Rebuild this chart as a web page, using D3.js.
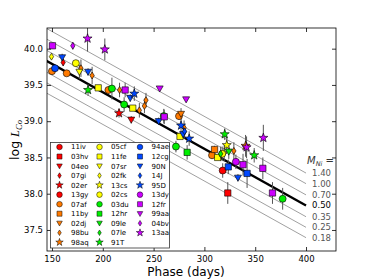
<!DOCTYPE html>
<html>
<head>
<meta charset="utf-8">
<script src="https://cdn.jsdelivr.net/npm/d3@7"></script>
<style>
  body { margin: 0; background: #fff; }
  text { font-family: "DejaVu Sans", sans-serif; }
</style>
</head>
<body>
<div id="chart"></div>
<script>
// legend order (column by column)
const snNames = ["11iv","03hv","04eo","07gi","02er","13gy","07af","11by","02dj","98bu","98aq",
                 "05cf","11fe","07sr","02fk","13cs","02cs","03du","12hr","09le","07le","91T",
                 "94ae","12cg","90N","14J","95D","13dy","12fr","99aa","04bv","13aa"];
const snColors = ["red","red","red","red","red","red","orange","orange","orange","orange","orange",
                  "yellow","yellow","yellow","yellow","yellow","yellow","green","green","green","green","green",
                  "blue","blue","blue","blue","blue","magenta","magenta","magenta","magenta","magenta"];
const snMarkers = ["o","s","v","d","*","o","o","s","v","d","*",
                   "o","s","v","d","*","o","o","s","v","d","*",
                   "o","s","v","d","*","o","s","v","d","*"];

// measured points: SN, phase (days), log L_Co, error
const pointSN    = ["11iv","03hv","04eo","07gi","02er",
                    "07af","07af","07af","07af","07af","11by",
                    "98bu","98bu","98bu","98bu","98bu","98bu","98bu","98bu","02dj","98aq",
                    "05cf","11fe","11fe","11fe","11fe","07sr","02fk","02fk","13cs","02cs",
                    "03du","03du","03du","03du","03du","12hr","09le","07le","91T","91T","91T",
                    "94ae","12cg","12cg","90N","90N","90N","90N","90N","90N","14J","95D","95D","95D",
                    "13dy","12fr","12fr","12fr","12fr","12fr","12fr","99aa","99aa","04bv",
                    "13aa","13aa","13aa","13aa"];
const pointPhase = [318,323,228,161,216,
                    150,164.5,205.5,275,307.5,310,
                    178.5,189.5,216.5,236,241,242.5,280,329,277,340.5,
                    173.5,195.5,229.5,276,313,177,149.5,319.5,322,317.5,
                    209,221,272,377,260,283,324,316,185.5,320,349,
                    153,323.5,342,160,185.5,227,255,279,333,280.5,231,277,285,
                    331,150.5,222,260.5,338,357.5,367,256,282,170.5,
                    185,202,341.5,358];
const pointLogL  = [38.32,38.01,39.02,39.81,39.11,
                    39.69,39.66,39.43,39.07,38.53,38.61,
                    39.73,39.63,39.43,39.15,39.21,39.29,38.91,38.59,39.10,38.66,
                    39.80,39.46,39.18,38.79,38.50,39.68,39.89,38.56,38.67,38.55,
                    39.45,39.23,38.65,37.93,39.07,38.57,38.58,38.55,39.43,38.82,38.53,
                    39.73,38.37,38.28,39.88,39.68,39.32,39.00,38.82,38.22,38.86,39.38,38.94,38.76,
                    38.44,40.04,39.43,39.06,38.40,38.35,38.01,39.45,39.30,40.04,
                    40.14,39.99,38.64,38.77];
const pointErr   = [0.10,0.15,0.05,0.05,0.06,
                    0.03,0.03,0.05,0.05,0.05,0.05,
                    0.12,0.12,0.10,0.10,0.10,0.10,0.10,0.12,0.08,0.15,
                    0.03,0.02,0.02,0.03,0.03,0.10,0.03,0.12,0.12,0.10,
                    0.15,0.10,0.08,0.15,0.10,0.10,0.10,0.10,0.08,0.08,0.10,
                    0.03,0.10,0.20,0.05,0.05,0.05,0.05,0.05,0.05,0.10,0.10,0.10,0.10,
                    0.10,0.03,0.10,0.10,0.15,0.15,0.15,0.03,0.03,0.05,
                    0.18,0.15,0.15,0.18];

// model tracks
const massLabels = ["1.40","1.00","0.70","0.50","0.35","0.25","0.18"];
const trackRef = [150, 39.79];   // phase, log L for 0.50 Msun
const trackSlope = -0.00781;     // dex per day

const colorMap = {red:"#ff0000", orange:"#ff7a00", yellow:"#ffff00", green:"#00ee00", blue:"#0048ff", magenta:"#cc00ff"};

const width = 374, height = 280;
const margin = {left: 47, top: 28, right: 38, bottom: 29};

const svg = d3.select("#chart").append("svg")
    .attr("width", width)
    .attr("height", height);

const x = d3.scaleLinear().domain([145.1, 429.5]).range([margin.left, width - margin.right]);
const y = d3.scaleLinear().domain([37.21, 40.285]).range([height - margin.bottom, margin.top]);

svg.append("clipPath").attr("id", "clip")
  .append("rect")
    .attr("x", margin.left).attr("y", margin.top)
    .attr("width", x.range()[1] - x.range()[0])
    .attr("height", y.range()[0] - y.range()[1]);

function circlePath(s) { const h = s / 2; return `M${h},0A${h},${h} 0 1,1 ${-h},0A${h},${h} 0 1,1 ${h},0Z`; }
function shape(m, s) {
  const h = s / 2;
  if (m === "o") return circlePath(s);
  if (m === "s") { const a = s * 0.45; return `M${-a},${-a}L${a},${-a}L${a},${a}L${-a},${a}Z`; }
  if (m === "v") return `M0,${h}L${-h},${-h * 0.75}L${h},${-h * 0.75}Z`;
  if (m === "d") return `M0,${-h}L${h * 0.62},0L0,${h}L${-h * 0.62},0Z`;
  // star
  const R = h * 1.12, r = R * 0.4;
  let p = "";
  for (let i = 0; i < 10; i++) {
    const a = Math.PI / 5 * i - Math.PI / 2, rr = i % 2 ? r : R;
    p += (i ? "L" : "M") + (rr * Math.cos(a)).toFixed(2) + "," + (rr * Math.sin(a)).toFixed(2);
  }
  return p + "Z";
}

// tracks
const plot = svg.append("g").attr("clip-path", "url(#clip)");
const trackEnd = 400;
massLabels.forEach(function(lab) {
  const off = Math.log10(+lab / 0.5);
  const isRef = lab === "0.50";
  plot.append("line")
    .attr("x1", x(0)).attr("y1", y(trackRef[1] + trackSlope * (0 - trackRef[0]) + off))
    .attr("x2", x(trackEnd)).attr("y2", y(trackRef[1] + trackSlope * (trackEnd - trackRef[0]) + off))
    .attr("stroke", isRef ? "#000" : "#a0a0a0")
    .attr("stroke-width", isRef ? 2.4 : 1);
  svg.append("text")
    .attr("x", x(trackEnd) + 6)
    .attr("y", y(trackRef[1] + trackSlope * (trackEnd - trackRef[0]) + off))
    .attr("dy", "0.35em")
    .attr("font-size", 8.5)
    .attr("fill", isRef ? "#000" : "#555")
    .text(lab);
});
const mlab = svg.append("text").attr("x", x(trackEnd) + 1).attr("y", 164)
  .attr("font-family", "Liberation Serif, serif").attr("font-style", "italic")
  .attr("font-size", 10).attr("fill", "#333");
mlab.append("tspan").text("M");
mlab.append("tspan").attr("font-size", 6.5).attr("dy", 2).text("Ni");
mlab.append("tspan").attr("dy", -2).attr("font-style", "normal").text(" =");

// points
const pts = pointSN.map((sn, i) => {
  const k = snNames.indexOf(sn);
  return {sn: sn, t: pointPhase[i], l: pointLogL[i], e: pointErr[i], m: snMarkers[k], c: colorMap[snColors[k]]};
});
plot.selectAll(".err").data(pts).enter().append("line")
    .attr("x1", d => x(d.t)).attr("x2", d => x(d.t))
    .attr("y1", d => y(d.l - d.e)).attr("y2", d => y(d.l + d.e))
    .attr("stroke", "#555").attr("stroke-width", 1);
plot.selectAll(".pt").data(pts).enter().append("path")
    .attr("transform", d => "translate(" + x(d.t) + "," + y(d.l) + ")")
    .attr("d", d => shape(d.m, d.m === "*" ? 8.5 : 7))
    .attr("fill", d => d.c)
    .attr("stroke", "#000").attr("stroke-width", 0.6);

// axes, ticks inward on all four sides
const xTicks = [150, 200, 250, 300, 350, 400];
const yTicks = [37.5, 38.0, 38.5, 39.0, 39.5, 40.0];
const gx = svg.append("g").attr("transform", "translate(0," + y.range()[0] + ")")
  .call(d3.axisBottom(x).tickValues(xTicks).tickSize(-4).tickPadding(5).tickFormat(d3.format("d")));
const gx2 = svg.append("g").attr("transform", "translate(0," + margin.top + ")")
  .call(d3.axisTop(x).tickValues(xTicks).tickSize(-4).tickFormat(""));
const gy = svg.append("g").attr("transform", "translate(" + margin.left + ",0)")
  .call(d3.axisLeft(y).tickValues(yTicks).tickSize(-4).tickPadding(4).tickFormat(d3.format(".1f")));
const gy2 = svg.append("g").attr("transform", "translate(" + x.range()[1] + ",0)")
  .call(d3.axisRight(y).tickValues(yTicks).tickSize(-4).tickFormat(""));
[gx, gx2, gy, gy2].forEach(function(g) {
  g.select(".domain").remove();
  g.selectAll("line").attr("stroke", "#000").attr("stroke-width", 0.8);
  g.selectAll("text").attr("font-family", "DejaVu Sans").attr("font-size", 8.5).attr("fill", "#000");
});
svg.append("rect")
  .attr("x", margin.left).attr("y", margin.top)
  .attr("width", x.range()[1] - x.range()[0]).attr("height", y.range()[0] - y.range()[1])
  .attr("fill", "none").attr("stroke", "#000").attr("stroke-width", 0.8);

// axis labels
svg.append("text").attr("x", 186).attr("y", 275.5).attr("text-anchor", "middle")
  .attr("font-size", 12).text("Phase (days)");
const yl = svg.append("text").attr("transform", "translate(19," + 140 + ") rotate(-90)")
  .attr("text-anchor", "middle").attr("font-size", 12.5);
yl.append("tspan").text("log ");
yl.append("tspan").attr("font-family", "Liberation Serif, serif").attr("font-style", "italic").text("L");
yl.append("tspan").attr("font-family", "Liberation Serif, serif").attr("font-style", "italic")
  .attr("font-size", 8.5).attr("dy", 3).text("Co");

// legend
const lg = svg.append("g");
lg.append("rect").attr("x", 50.5).attr("y", 142.5).attr("width", 119).attr("height", 105.5)
  .attr("fill", "#fff").attr("stroke", "#333").attr("stroke-width", 0.8);
const colX = [59.5, 99.5, 140], rowY0 = 147, rowH = 9.53;
snNames.forEach(function(name, i) {
  const col = i < 11 ? 0 : (i < 22 ? 1 : 2);
  const row = col === 0 ? i : (col === 1 ? i - 11 : i - 22);
  const cy = rowY0 + row * rowH;
  const m = snMarkers[i];
  lg.append("path")
    .attr("transform", "translate(" + colX[col] + "," + cy + ")")
    .attr("d", shape(m, m === "*" ? 7 : 5.6))
    .attr("fill", colorMap[snColors[i]])
    .attr("stroke", "#000").attr("stroke-width", 0.5);
  lg.append("text").attr("x", colX[col] + 11.5).attr("y", cy).attr("dy", "0.35em")
    .attr("font-size", 7).text(name);
});
</script>
</body>
</html>
